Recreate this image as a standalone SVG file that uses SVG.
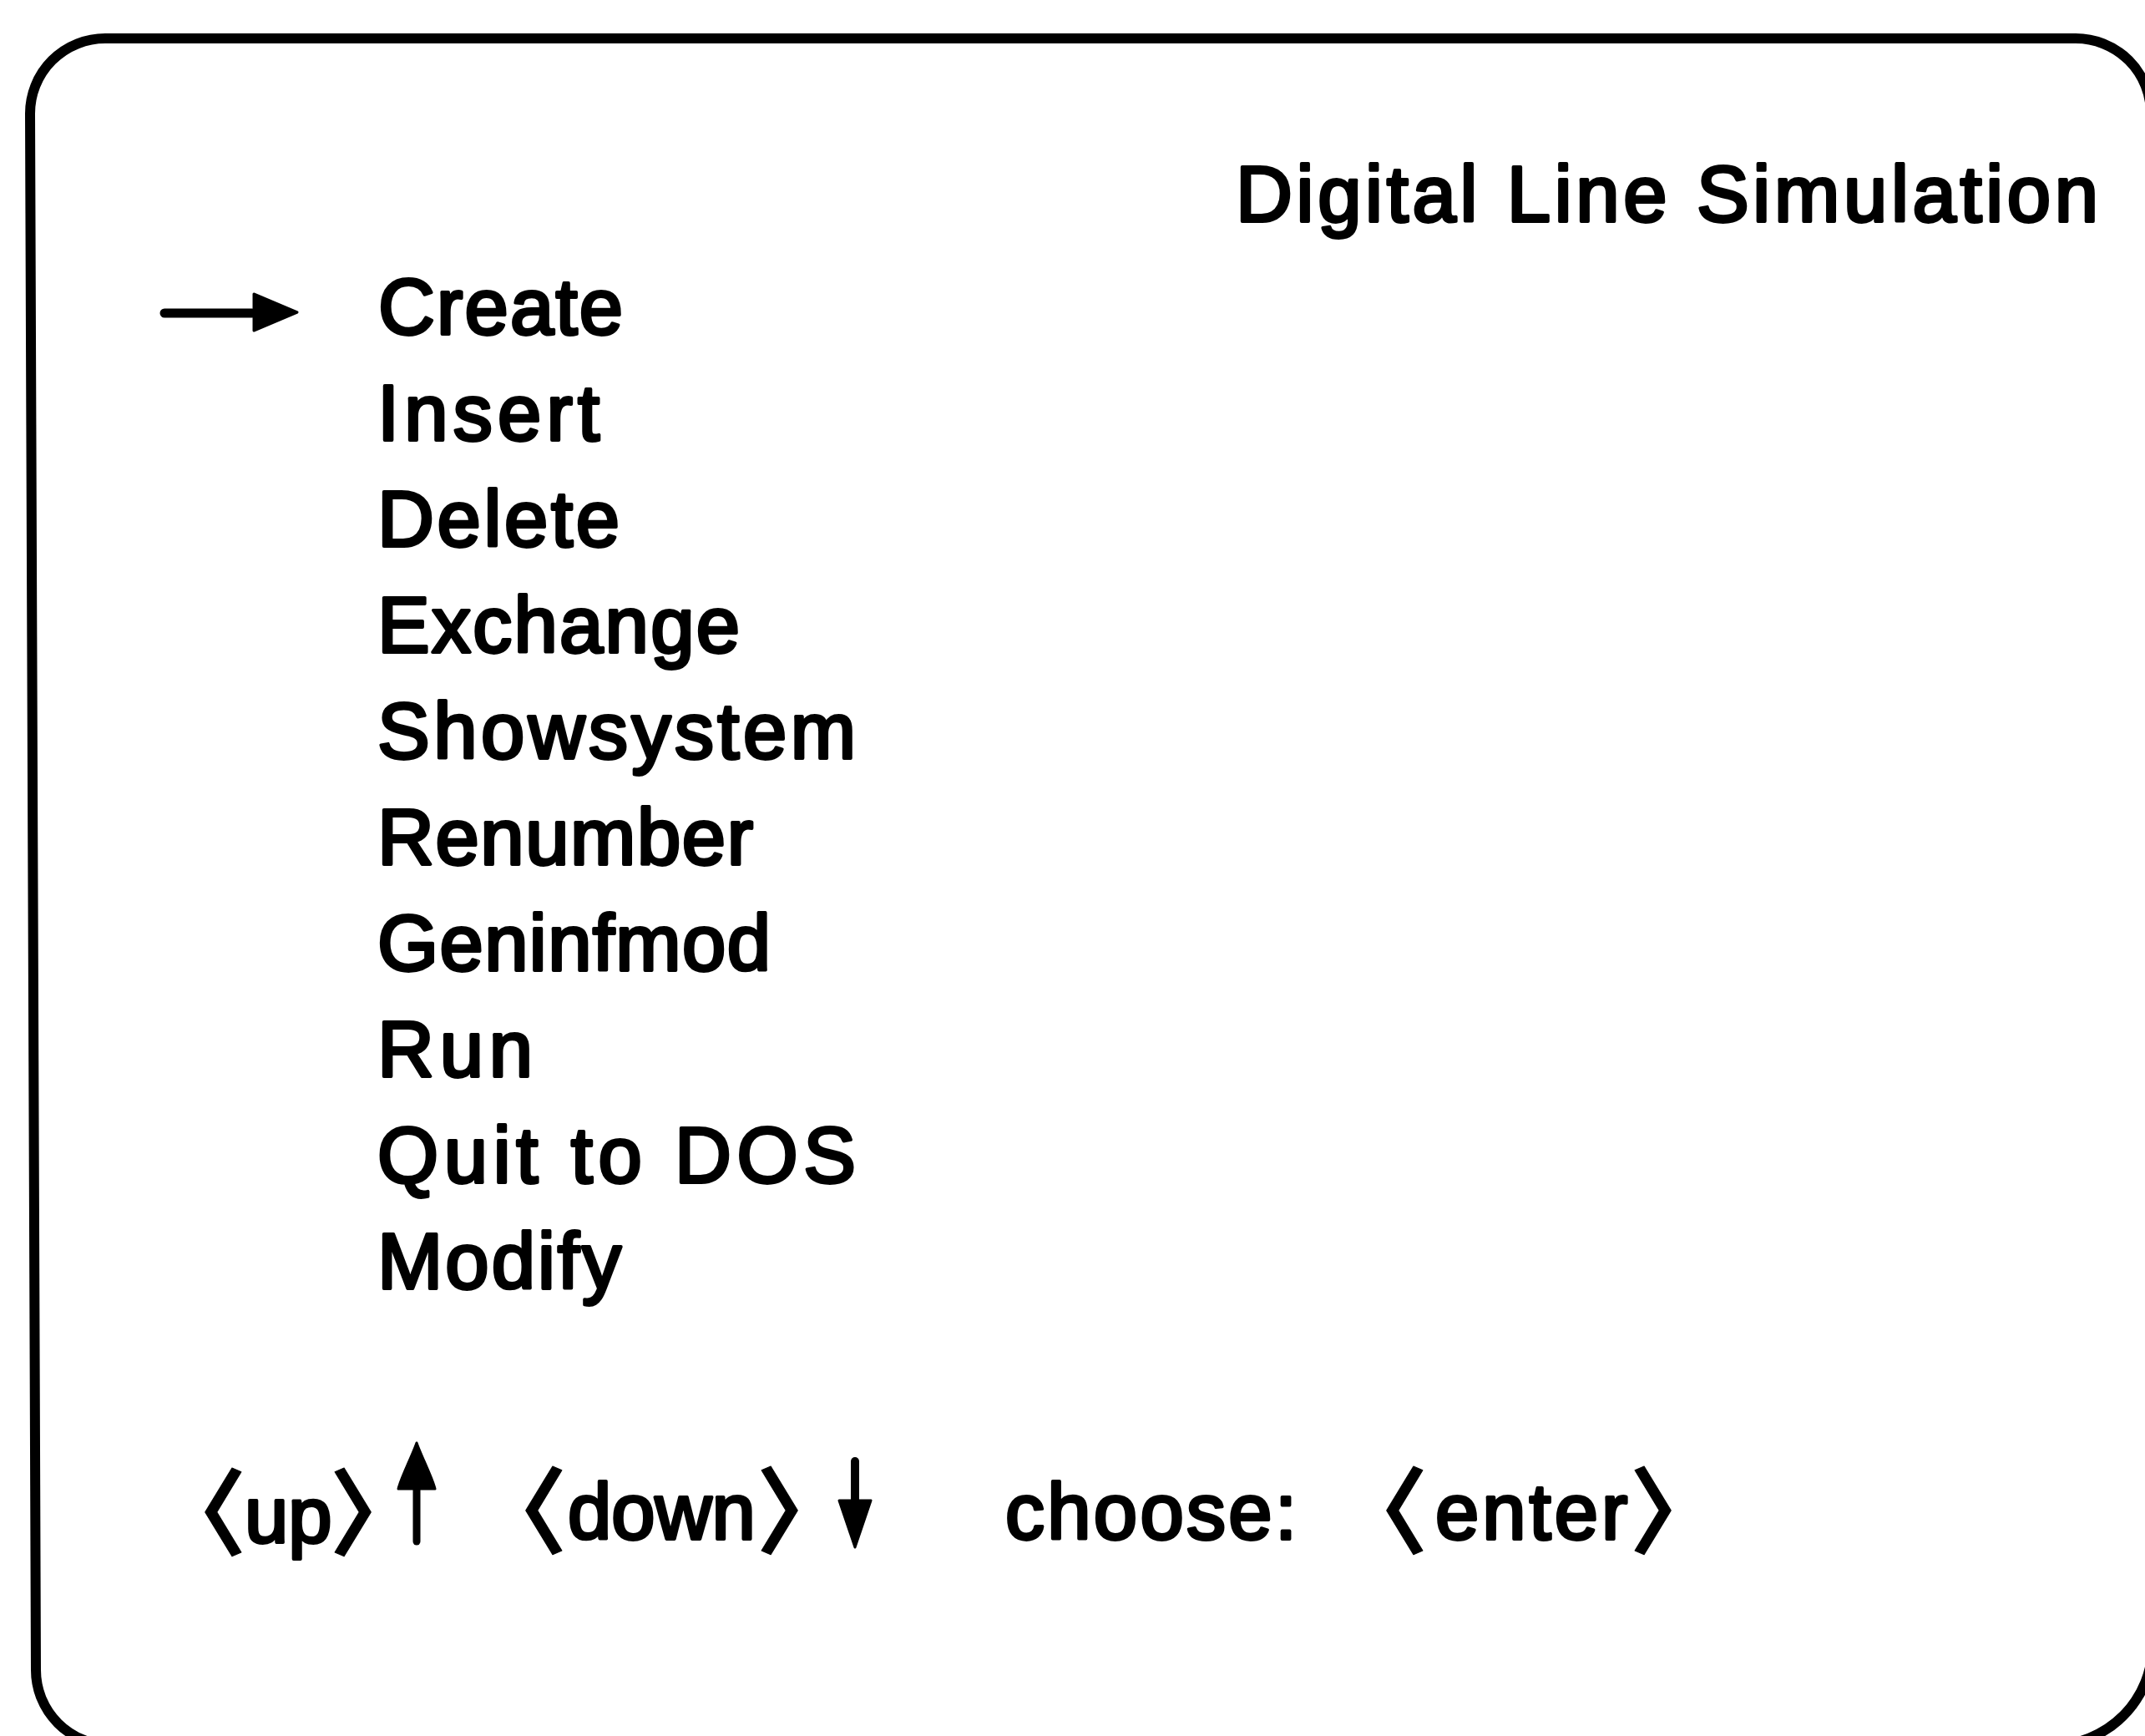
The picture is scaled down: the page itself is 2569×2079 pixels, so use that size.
<svg xmlns="http://www.w3.org/2000/svg" width="2569" height="2079" viewBox="0 0 2569 2079">
<style>
.t{font-family:"Liberation Sans",Arial,sans-serif;font-size:94px;fill:#000;stroke:#000;stroke-width:3.8;stroke-linejoin:round}
.br{font-family:"Noto Sans CJK JP","Noto Sans CJK SC",sans-serif;font-size:112px;font-weight:bold;stroke-width:1}
.frame{fill:none;stroke:#000;stroke-width:12;stroke-linejoin:round}
.shaft{stroke:#000;stroke-width:11;stroke-linecap:round}
.head{fill:#000;stroke:#000;stroke-width:3;stroke-linejoin:round}
</style>
<rect width="2569" height="2079" fill="#fff"/>
<g id="frame">
<path class="frame" d="M126,46 L2486,46 A90,90 0 0 1 2576,136 L2578,1970 A120,120 0 0 1 2458,2090 L133,2090 A90,90 0 0 1 43,2000 L36,136 A90,90 0 0 1 126,46 Z"/>
</g>
<g id="title">
<text class="t" x="1480" y="265" textLength="1033" lengthAdjust="spacing">Digital Line Simulation</text>
</g>
<g id="pointer">
<line class="shaft" x1="197" y1="375" x2="302" y2="375"/>
<polygon class="head" points="304,352 356,374 304,396"/>
</g>
<g id="menu">
<g id="item-create"><text class="t" x="453" y="400" textLength="293" lengthAdjust="spacing">Create</text></g>
<g id="item-insert"><text class="t" x="452" y="527" textLength="266" lengthAdjust="spacing">Insert</text></g>
<g id="item-delete"><text class="t" x="452" y="654" textLength="290" lengthAdjust="spacing">Delete</text></g>
<g id="item-exchange"><text class="t" x="452" y="781" textLength="434" lengthAdjust="spacing">Exchange</text></g>
<g id="item-showsystem"><text class="t" x="452" y="908" textLength="573" lengthAdjust="spacing">Showsystem</text></g>
<g id="item-renumber"><text class="t" x="452" y="1035" textLength="450" lengthAdjust="spacing">Renumber</text></g>
<g id="item-geninfmod"><text class="t" x="452" y="1162" textLength="471" lengthAdjust="spacing">Geninfmod</text></g>
<g id="item-run"><text class="t" x="452" y="1289" textLength="186" lengthAdjust="spacing">Run</text></g>
<g id="item-quit"><text class="t" x="452" y="1416" textLength="573" lengthAdjust="spacing">Quit to DOS</text></g>
<g id="item-modify"><text class="t" x="452" y="1543" textLength="292" lengthAdjust="spacing">Modify</text></g>
</g>
<g id="help">
<text class="t" y="1847"><tspan class="br" x="183" y="1854">〈</tspan><tspan x="293" y="1847">up</tspan><tspan class="br" x="395" y="1854">〉</tspan></text>
<line class="shaft" x1="499" y1="1775" x2="499" y2="1846" style="stroke-width:9"/>
<path class="head" d="M499,1728 C505,1745 518,1770 521,1783 L477,1783 C480,1770 493,1745 499,1728 Z"/>
<text class="t" y="1843"><tspan class="br" x="567" y="1852">〈</tspan><tspan x="680" y="1843">down</tspan><tspan class="br" x="906" y="1852">〉</tspan></text>
<line class="shaft" x1="1024" y1="1750" x2="1024" y2="1805" style="stroke-width:10"/>
<path class="head" d="M1024,1853 L1043,1797 L1005,1797 Z"/>
<text class="t" x="1204" y="1843" textLength="349" lengthAdjust="spacing">choose:</text>
<text class="t" y="1843"><tspan class="br" x="1598" y="1852">〈</tspan><tspan x="1719" y="1843" letter-spacing="4">enter</tspan><tspan class="br" x="1952" y="1852">〉</tspan></text>
</g>
</svg>
